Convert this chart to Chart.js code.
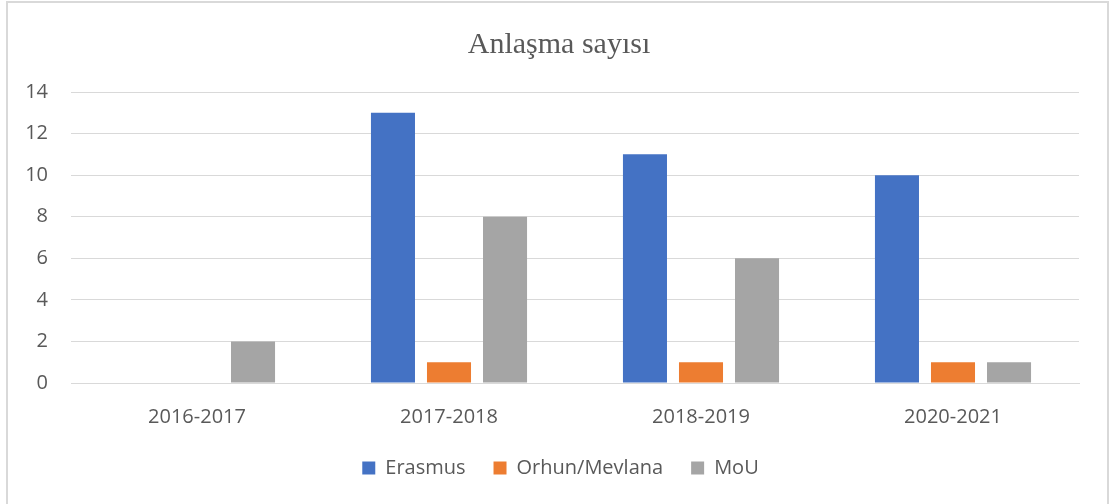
<!DOCTYPE html>
<html>
<head>
<meta charset="utf-8">
<script src="https://cdn.jsdelivr.net/npm/chart.js@4/dist/chart.umd.min.js"></script>
<style>
  html, body { margin: 0; padding: 0; background: #fff; }
  #wrap { position: relative; width: 1112px; height: 504px; overflow: hidden; }
  #frame { position: absolute; left: 6px; top: 1px; width: 1103px; height: 520px; border: 2px solid #D9D9D9; box-sizing: border-box; pointer-events: none; }
  canvas { position: absolute; left: 0; top: 0; }
</style>
</head>
<body>
<div id="wrap">
  <canvas id="c" width="1112" height="504"></canvas>
  <div id="frame"></div>
</div>
<script>
const chartTitle = "Anlaşma sayısı";
const categories = ["2016-2017", "2017-2018", "2018-2019", "2020-2021"];
const erasmus = [0, 13, 11, 10];
const orhunMevlana = [0, 1, 1, 1];
const mou = [2, 8, 6, 1];
const yTicks = [0, 2, 4, 6, 8, 10, 12, 14];

const layoutTweakPlugin = {
  id: 'layoutTweak',
  beforeInit(chart) {
    const origFit = chart.legend.fit;
    chart.legend.fit = function () {
      origFit.call(this);
      this.height = 74;
    };
  },
  afterLayout(chart) {
    if (chart.titleBlock) { chart.titleBlock.left = 39; }
    if (chart.legend) { chart.legend.left = 42; }
  }
};

const textColor = '#595959';
const gridColor = '#D9D9D9';

new Chart(document.getElementById('c'), {
  type: 'bar',
  data: {
    labels: categories,
    datasets: [
      { label: 'Erasmus', data: erasmus, backgroundColor: '#4472C4' },
      { label: 'Orhun/Mevlana', data: orhunMevlana, backgroundColor: '#ED7D31' },
      { label: 'MoU', data: mou, backgroundColor: '#A5A5A5' }
    ]
  },
  options: {
    responsive: false,
    animation: false,
    devicePixelRatio: 1,
    datasets: { bar: { categoryPercentage: 0.667, barPercentage: 0.786 } },
    layout: { padding: { left: 0, right: 33, top: 0, bottom: 0 } },
    plugins: {
      tooltip: { enabled: false },
      title: {
        display: true,
        text: chartTitle,
        color: textColor,
        font: { family: '"Liberation Serif", "Times New Roman", serif', size: 30, weight: 'normal' },
        padding: { top: 27, bottom: 29 }
      },
      legend: {
        display: true,
        position: 'bottom',
        labels: {
          color: textColor,
          font: { family: '"Open Sans", sans-serif', size: 20 },
          boxWidth: 13,
          boxHeight: 13,
          padding: 28
        }
      }
    },
    scales: {
      x: {
        grid: { display: false, drawTicks: false },
        border: { display: true, color: gridColor, width: 1 },
        ticks: { color: textColor, font: { family: '"Open Sans", sans-serif', size: 20 }, padding: 22, maxRotation: 0 },
        afterFit(s) { s.height = 47; }
      },
      y: {
        min: 0,
        max: 14,
        afterBuildTicks(s) { s.ticks = yTicks.map(v => ({ value: v })); },
        grid: { color: gridColor, lineWidth: 1, drawTicks: false },
        border: { display: false },
        ticks: { color: textColor, font: { family: '"Open Sans", sans-serif', size: 20 }, padding: 23 },
        afterFit(s) { s.width = 71; }
      }
    }
  },
  plugins: [layoutTweakPlugin]
});
</script>
</body>
</html>
